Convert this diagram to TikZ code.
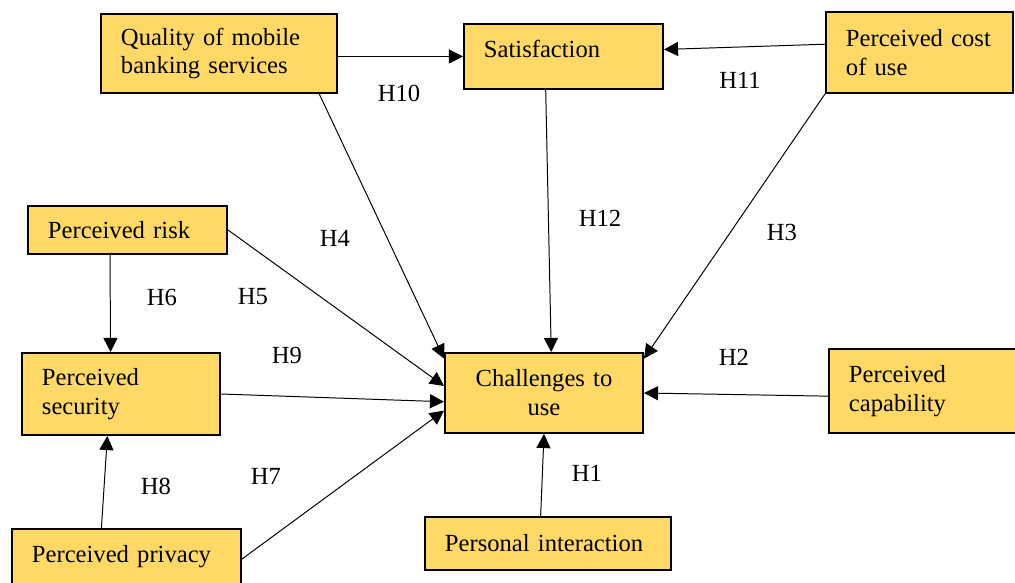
\documentclass[tikz,border=0pt]{standalone}
\usepackage{fontspec}
\setmainfont[WordSpace=0.7]{Liberation Serif}
\usetikzlibrary{arrows.meta}
\definecolor{boxfill}{RGB}{255,217,102}
\tikzset{
  factor/.style={draw=black, line width=1.4pt, fill=boxfill, anchor=north west,
    inner xsep=0.5cm, inner ysep=0pt, align=left,
    font=\fontsize{17.5}{20.6}\selectfont},
  link/.style={-{Triangle[length=10pt,width=10pt]}, line width=0.7pt},
  hyp/.style={font=\fontsize{17.5}{20.6}\selectfont}
}
\begin{document}
\begin{tikzpicture}[x=0.025cm,y=-0.025cm]
  \useasboundingbox (0,0) rectangle (1015,583);

  % factors
  \node[factor, text width=4.9cm, minimum height=1.975cm] (qual) at (100,13) {Quality of mobile\\banking services};
  \node[factor, text width=3.975cm, minimum height=1.625cm, text depth=0.4cm] (sat) at (463,23) {Satisfaction};
  \node[factor, text width=3.675cm, minimum height=2.025cm] (cost) at (825,11) {Perceived cost\\of use};
  \node[factor, text width=3.975cm, minimum height=1.2cm] (risk) at (27,205) {Perceived risk};
  \node[factor, text width=3.95cm, minimum height=2.05cm] (sec) at (21,352) {Perceived\\security};
  \node[factor, text width=3.95cm, minimum height=2cm, align=center] (chal) at (444,352) {Challenges to\\use};
  \node[factor, text width=3.875cm, minimum height=2.1cm] (cap) at (828,348) {Perceived\\capability};
  \node[factor, text width=4.725cm, minimum height=1.5cm, text depth=0.25cm] (priv) at (11,528) {Perceived privacy};
  \node[factor, text width=5.15cm, minimum height=1.325cm] (pers) at (424,516) {Personal interaction};

  % hypotheses
  \node[hyp] (h1) at (587,473) {H1};
  \node[hyp] (h2) at (734,357) {H2};
  \node[hyp] (h3) at (782,232) {H3};
  \node[hyp] (h4) at (335,238) {H4};
  \node[hyp] (h5) at (253,297) {H5};
  \node[hyp] (h6) at (162,297) {H6};
  \node[hyp] (h7) at (266,476) {H7};
  \node[hyp] (h8) at (156,486) {H8};
  \node[hyp] (h9) at (287,355) {H9};
  \node[hyp] (h10) at (399,93) {H10};
  \node[hyp] (h11) at (740,80) {H11};
  \node[hyp] (h12) at (600,218) {H12};

  % paths
  \draw[link] (qual.east |- sat.west) -- (sat.west);
  \draw[link] (cost.175) -- (sat.4);
  \draw[link] (qual.338) -- (chal.161);
  \draw[link] (sat.242) -- (chal.80);
  \draw[link] (cost.south west) -- (chal.19);
  \draw[link] (risk.east) -- (chal.176);
  \draw[link] (risk.235) -- (sec.104);
  \draw[link] (sec.east) -- (chal.185);
  \draw[link] (priv.east) -- (chal.190);
  \draw[link] (priv.129) -- (sec.252);
  \draw[link] (cap.183) -- (chal.east);
  \draw[link] (pers.105) -- (chal.south);
\end{tikzpicture}
\end{document}
